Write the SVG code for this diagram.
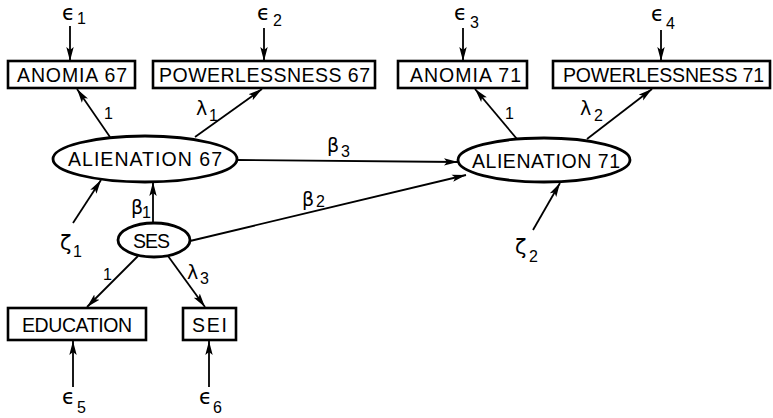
<svg xmlns="http://www.w3.org/2000/svg" width="773" height="418" viewBox="0 0 773 418">
  <defs>
    <marker id="arrow" markerUnits="userSpaceOnUse" markerWidth="15" markerHeight="9" refX="14" refY="4.5" orient="auto">
      <path d="M0,0.8 L14,4.5 L0,8.2 L3,4.5 Z" fill="#000"/>
    </marker>
    <style>
      .box { fill: #fff; stroke: #000; stroke-width: 2.6; }
      .oval { fill: #fff; stroke: #000; stroke-width: 2.8; }
      .edge { fill: none; stroke: #000; stroke-width: 1.8; marker-end: url(#arrow); }
      .lbl { font-family: "Liberation Sans", "DejaVu Sans", sans-serif; font-size: 19.5px; fill: #000; }
      .sym { font-family: "DejaVu Sans", "Liberation Sans", sans-serif; font-size: 19px; fill: #000; }
      .eps { font-family: "DejaVu Sans", "Liberation Sans", sans-serif; font-size: 21px; fill: #000; }
      .sub { font-family: "Liberation Sans", "DejaVu Sans", sans-serif; font-size: 16px; fill: #000; }
      .coef { font-family: "Liberation Sans", "DejaVu Sans", sans-serif; font-size: 16px; fill: #000; }
    </style>
  </defs>

  <rect width="773" height="418" fill="#fff"/>

  <!-- connectors -->
  <g id="connectors">
    <!-- measurement errors -->
    <line class="edge" x1="70" y1="26" x2="70" y2="61"/>
    <line class="edge" x1="264" y1="28" x2="264" y2="61"/>
    <line class="edge" x1="463" y1="28" x2="463" y2="61"/>
    <line class="edge" x1="661" y1="30" x2="661" y2="61"/>
    <line class="edge" x1="73" y1="387" x2="73" y2="341"/>
    <line class="edge" x1="209" y1="387" x2="209" y2="341"/>
    <!-- loadings -->
    <line class="edge" x1="110" y1="137" x2="77" y2="89"/>
    <line class="edge" x1="195" y1="137" x2="262" y2="89"/>
    <line class="edge" x1="517" y1="139" x2="475" y2="89"/>
    <line class="edge" x1="587" y1="139" x2="652" y2="89"/>
    <line class="edge" x1="138" y1="256" x2="87" y2="307"/>
    <line class="edge" x1="168" y1="256" x2="205" y2="307"/>
    <!-- structural paths -->
    <line class="edge" x1="153" y1="223" x2="153" y2="182"/>
    <line class="edge" x1="237" y1="160" x2="458" y2="162"/>
    <line class="edge" x1="190" y1="241" x2="466" y2="175"/>
    <!-- disturbances -->
    <line class="edge" x1="73" y1="223" x2="101" y2="180"/>
    <line class="edge" x1="533" y1="230" x2="560" y2="183"/>
  </g>

  <!-- observed indicators -->
  <g id="anomia67">
    <rect class="box" x="8" y="61" width="127" height="27"/>
    <text class="lbl" x="17" y="82" textLength="110" lengthAdjust="spacing">ANOMIA 67</text>
  </g>
  <g id="powerlessness67">
    <rect class="box" x="153" y="61" width="222" height="27"/>
    <text class="lbl" x="159" y="82" textLength="211" lengthAdjust="spacing">POWERLESSNESS 67</text>
  </g>
  <g id="anomia71">
    <rect class="box" x="398" y="61" width="129" height="27"/>
    <text class="lbl" x="410" y="82" textLength="111" lengthAdjust="spacing">ANOMIA 71</text>
  </g>
  <g id="powerlessness71">
    <rect class="box" x="553" y="61" width="217" height="27"/>
    <text class="lbl" x="563" y="82" textLength="201" lengthAdjust="spacing">POWERLESSNESS 71</text>
  </g>
  <g id="education">
    <rect class="box" x="8" y="308" width="138" height="32"/>
    <text class="lbl" x="22" y="332" textLength="110" lengthAdjust="spacing">EDUCATION</text>
  </g>
  <g id="sei">
    <rect class="box" x="183" y="308" width="53" height="32"/>
    <text class="lbl" x="192" y="332" textLength="35" lengthAdjust="spacing">SEI</text>
  </g>

  <!-- latent variables -->
  <g id="alienation67">
    <ellipse class="oval" cx="145" cy="159" rx="92" ry="23"/>
    <text class="lbl" x="68" y="166" textLength="154" lengthAdjust="spacing">ALIENATION 67</text>
  </g>
  <g id="alienation71">
    <ellipse class="oval" cx="544" cy="160" rx="86" ry="22"/>
    <text class="lbl" x="472" y="168" textLength="148" lengthAdjust="spacing">ALIENATION 71</text>
  </g>
  <g id="ses">
    <ellipse class="oval" cx="154" cy="240" rx="36" ry="17"/>
    <text class="lbl" x="133" y="248" textLength="37" lengthAdjust="spacing">SES</text>
  </g>

  <!-- error terms -->
  <g id="eps1"><text class="eps" x="62" y="20">ϵ</text><text class="sub" x="77" y="24">1</text></g>
  <g id="eps2"><text class="eps" x="257" y="20">ϵ</text><text class="sub" x="273" y="26">2</text></g>
  <g id="eps3"><text class="eps" x="454" y="20">ϵ</text><text class="sub" x="470" y="28">3</text></g>
  <g id="eps4"><text class="eps" x="651" y="21">ϵ</text><text class="sub" x="666" y="29">4</text></g>
  <g id="eps5"><text class="eps" x="62" y="404">ϵ</text><text class="sub" x="77" y="413">5</text></g>
  <g id="eps6"><text class="eps" x="199" y="404">ϵ</text><text class="sub" x="213" y="413">6</text></g>
  <g id="zeta1"><text class="eps" x="60" y="250">ζ</text><text class="sub" x="73" y="257">1</text></g>
  <g id="zeta2"><text class="eps" x="515" y="254">ζ</text><text class="sub" x="529" y="262">2</text></g>

  <!-- path coefficients -->
  <g id="coefficients">
    <text class="coef" x="104" y="119">1</text>
    <text class="coef" x="505" y="119">1</text>
    <text class="coef" x="103" y="280">1</text>
    <text class="sym" x="196" y="115">λ</text><text class="sub" x="209" y="121">1</text>
    <text class="sym" x="580" y="115">λ</text><text class="sub" x="594" y="121">2</text>
    <text class="sym" x="187" y="279">λ</text><text class="sub" x="200" y="284">3</text>
    <text class="sym" x="131" y="214">β</text><text class="sub" x="142" y="218">1</text>
    <text class="sym" x="302" y="206">β</text><text class="sub" x="316" y="207">2</text>
    <text class="sym" x="327" y="152">β</text><text class="sub" x="341" y="157">3</text>
  </g>
</svg>
